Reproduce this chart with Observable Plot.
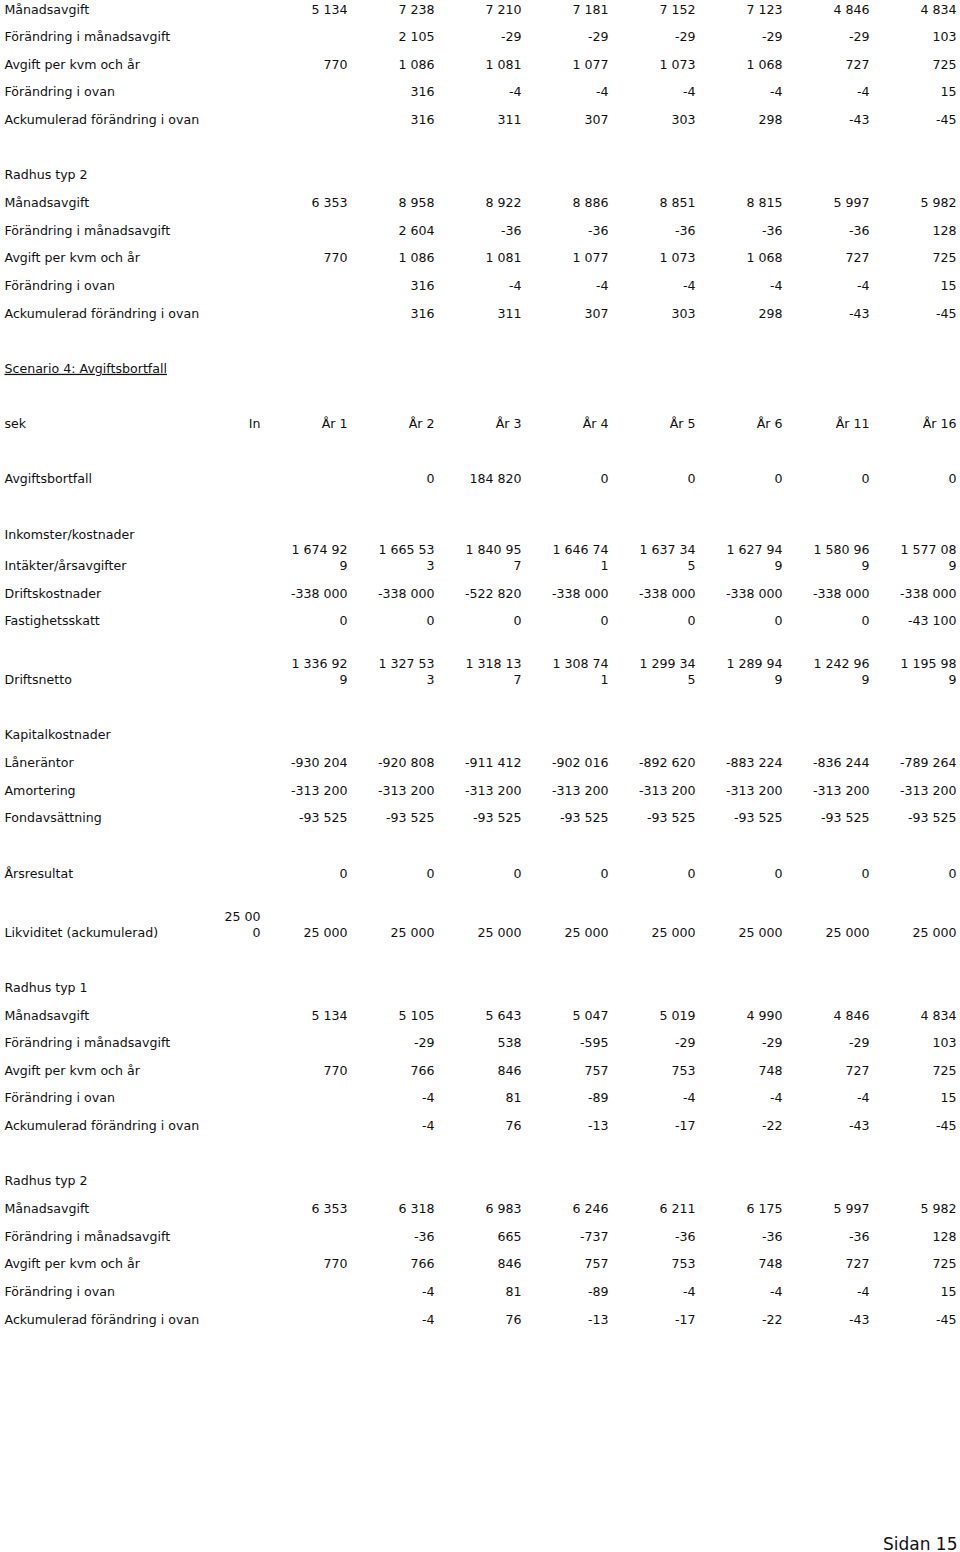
<!DOCTYPE html>
<html>
<head>
<meta charset="utf-8">
<script src="https://cdn.jsdelivr.net/npm/d3@7"></script>
<script src="https://cdn.jsdelivr.net/npm/@observablehq/plot@0.6"></script>
<style>
  html, body { margin: 0; padding: 0; background: #fff; }
  #chart svg { display: block; }
</style>
</head>
<body>
<div id="chart"></div>
<script>
// Column headers (In + years)
const columns = ["In", "År 1", "År 2", "År 3", "År 4", "År 5", "År 6", "År 11", "År 16"];

// Section A: continuation of previous scenario
const a1_manadsavgift   = [null, 5134, 7238, 7210, 7181, 7152, 7123, 4846, 4834];
const a1_forandring     = [null, null, 2105, -29, -29, -29, -29, -29, 103];
const a1_avgiftKvm      = [null, 770, 1086, 1081, 1077, 1073, 1068, 727, 725];
const a1_forandringOvan = [null, null, 316, -4, -4, -4, -4, -4, 15];
const a1_ackumulerad    = [null, null, 316, 311, 307, 303, 298, -43, -45];

const a2_manadsavgift   = [null, 6353, 8958, 8922, 8886, 8851, 8815, 5997, 5982];
const a2_forandring     = [null, null, 2604, -36, -36, -36, -36, -36, 128];
const a2_avgiftKvm      = [null, 770, 1086, 1081, 1077, 1073, 1068, 727, 725];
const a2_forandringOvan = [null, null, 316, -4, -4, -4, -4, -4, 15];
const a2_ackumulerad    = [null, null, 316, 311, 307, 303, 298, -43, -45];

// Scenario 4: Avgiftsbortfall
const avgiftsbortfall  = [null, null, 0, 184820, 0, 0, 0, 0, 0];
const intakter         = [null, 1674929, 1665533, 1840957, 1646741, 1637345, 1627949, 1580969, 1577089];
const driftskostnader  = [null, -338000, -338000, -522820, -338000, -338000, -338000, -338000, -338000];
const fastighetsskatt  = [null, 0, 0, 0, 0, 0, 0, 0, -43100];
const driftsnetto      = [null, 1336929, 1327533, 1318137, 1308741, 1299345, 1289949, 1242969, 1195989];
const laneRantor       = [null, -930204, -920808, -911412, -902016, -892620, -883224, -836244, -789264];
const amortering       = [null, -313200, -313200, -313200, -313200, -313200, -313200, -313200, -313200];
const fondavsattning   = [null, -93525, -93525, -93525, -93525, -93525, -93525, -93525, -93525];
const arsresultat      = [null, 0, 0, 0, 0, 0, 0, 0, 0];
const likviditet       = [25000, 25000, 25000, 25000, 25000, 25000, 25000, 25000, 25000];

const b1_manadsavgift   = [null, 5134, 5105, 5643, 5047, 5019, 4990, 4846, 4834];
const b1_forandring     = [null, null, -29, 538, -595, -29, -29, -29, 103];
const b1_avgiftKvm      = [null, 770, 766, 846, 757, 753, 748, 727, 725];
const b1_forandringOvan = [null, null, -4, 81, -89, -4, -4, -4, 15];
const b1_ackumulerad    = [null, null, -4, 76, -13, -17, -22, -43, -45];

const b2_manadsavgift   = [null, 6353, 6318, 6983, 6246, 6211, 6175, 5997, 5982];
const b2_forandring     = [null, null, -36, 665, -737, -36, -36, -36, 128];
const b2_avgiftKvm      = [null, 770, 766, 846, 757, 753, 748, 727, 725];
const b2_forandringOvan = [null, null, -4, 81, -89, -4, -4, -4, 15];
const b2_ackumulerad    = [null, null, -4, 76, -13, -17, -22, -43, -45];

const scenarioTitle = "Scenario 4: Avgiftsbortfall";
const pageFooter = "Sidan 15";

const B = {blank: true};
const rowsDef = [
  {label: "Månadsavgift", values: a1_manadsavgift},
  {label: "Förändring i månadsavgift", values: a1_forandring},
  {label: "Avgift per kvm och år", values: a1_avgiftKvm},
  {label: "Förändring i ovan", values: a1_forandringOvan},
  {label: "Ackumulerad förändring i ovan", values: a1_ackumulerad},
  B,
  {label: "Radhus typ 2"},
  {label: "Månadsavgift", values: a2_manadsavgift},
  {label: "Förändring i månadsavgift", values: a2_forandring},
  {label: "Avgift per kvm och år", values: a2_avgiftKvm},
  {label: "Förändring i ovan", values: a2_forandringOvan},
  {label: "Ackumulerad förändring i ovan", values: a2_ackumulerad},
  B,
  {label: scenarioTitle, underline: true},
  B,
  {label: "sek", header: true},
  B,
  {label: "Avgiftsbortfall", values: avgiftsbortfall},
  B,
  {label: "Inkomster/kostnader"},
  {label: "Intäkter/årsavgifter", values: intakter},
  {label: "Driftskostnader", values: driftskostnader},
  {label: "Fastighetsskatt", values: fastighetsskatt},
  B,
  {label: "Driftsnetto", values: driftsnetto},
  B,
  {label: "Kapitalkostnader"},
  {label: "Låneräntor", values: laneRantor},
  {label: "Amortering", values: amortering},
  {label: "Fondavsättning", values: fondavsattning},
  B,
  {label: "Årsresultat", values: arsresultat},
  B,
  {label: "Likviditet (ackumulerad)", values: likviditet},
  B,
  {label: "Radhus typ 1"},
  {label: "Månadsavgift", values: b1_manadsavgift},
  {label: "Förändring i månadsavgift", values: b1_forandring},
  {label: "Avgift per kvm och år", values: b1_avgiftKvm},
  {label: "Förändring i ovan", values: b1_forandringOvan},
  {label: "Ackumulerad förändring i ovan", values: b1_ackumulerad},
  B,
  {label: "Radhus typ 2"},
  {label: "Månadsavgift", values: b2_manadsavgift},
  {label: "Förändring i månadsavgift", values: b2_forandring},
  {label: "Avgift per kvm och år", values: b2_avgiftKvm},
  {label: "Förändring i ovan", values: b2_forandringOvan},
  {label: "Ackumulerad förändring i ovan", values: b2_ackumulerad}
];

const fmt = d3.formatLocale({decimal: ",", thousands: " ", grouping: [3], currency: ["", ""], minus: "-"}).format(",d");

// Build cells, wrapping narrow columns like the original document
const labels = [], bottomCells = [], topCells = [];
let pos = 0;
for (const r of rowsDef) {
  let cells = [];
  if (r.values) {
    r.values.forEach((v, j) => {
      if (v == null) return;
      const t = fmt(v);
      const maxc = j === 0 ? 5 : 8;
      if (t.length > maxc) cells.push({col: columns[j], top: t.slice(0, maxc).trim(), bottom: t.slice(maxc).trim()});
      else cells.push({col: columns[j], bottom: t});
    });
  } else if (r.header) {
    cells = columns.map(c => ({col: c, bottom: c}));
  }
  const tall = cells.some(c => c.top);
  if (tall) pos += 0.134;
  if (!r.blank) {
    labels.push({label: r.label, pos});
    for (const c of cells) {
      bottomCells.push({col: c.col, text: c.bottom, pos});
      if (c.top) topCells.push({col: c.col, text: c.top, pos});
    }
  }
  pos += 1;
}
const maxPos = pos - 1;

const font = "'DejaVu Sans', Verdana, sans-serif";
const ink = "#111";
const fs = 12.6;

const chart = Plot.plot({
  width: 960,
  height: 1552,
  margin: 0,
  x: {type: "point", domain: columns, range: [258, 957], padding: 0, axis: null},
  y: {type: "linear", domain: [0, maxPos], range: [9, 1319], axis: null},
  style: {background: "#fff", fontFamily: font},
  marks: [
    Plot.text(labels, {y: "pos", text: "label", frameAnchor: "left", textAnchor: "start", dx: 4, fill: ink, fontSize: fs, fontFamily: font}),
    Plot.text(bottomCells, {x: "col", y: "pos", text: "text", textAnchor: "end", fill: ink, fontSize: fs, fontFamily: font}),
    Plot.text(topCells, {x: "col", y: "pos", text: "text", textAnchor: "end", dy: -16, fill: ink, fontSize: fs, fontFamily: font}),
    Plot.text([pageFooter], {text: d => d, frameAnchor: "bottom-right", textAnchor: "end", lineAnchor: "bottom", dx: -3, dy: -3, fill: ink, fontSize: 17, fontFamily: font})
  ]
});

d3.select(chart).selectAll("text")
  .filter(function() { return this.textContent === scenarioTitle; })
  .style("text-decoration", "underline");

document.getElementById("chart").appendChild(chart);
</script>
</body>
</html>
